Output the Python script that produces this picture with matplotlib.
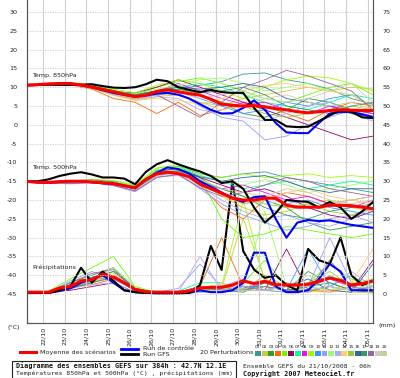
import numpy as np
import matplotlib
matplotlib.use('Agg')
import matplotlib.pyplot as plt
from matplotlib.lines import Line2D
from matplotlib.patches import Rectangle

# ---------------- data ----------------
t12 = np.arange(33) * 0.5      # days since 21/10 06h, 12h steps
t24 = np.arange(17) * 1.0      # daily steps

date_labels = ["22/10", "23/10", "24/10", "25/10", "26/10", "26/10", "27/10", "28/10",
               "29/10", "30/10", "31/10", "01/11", "02/11", "03/11", "04/11", "05/11"]
date_pos = [0.75 + i for i in range(16)]

# Temp 850 hPa (deg C)
t850_mean = [10.6, 10.7, 10.9, 11.0, 11.0, 10.6, 10.0, 9.4, 8.8, 8.1, 7.5, 7.9, 8.9, 9.3, 8.8, 8.3, 7.9,
             6.8, 5.5, 5.2, 5.0, 5.1, 4.8, 4.3, 4.0, 3.5, 3.2, 3.5, 3.8, 4.0, 3.9, 3.8, 3.8]
t850_gfs = [10.5, 10.6, 10.7, 10.6, 10.6, 10.7, 10.8, 10.3, 9.9, 9.8, 10.0, 10.8, 12.0, 11.6, 10.0, 9.3, 8.7,
            9.3, 8.7, 8.5, 8.5, 4.5, 1.3, 1.3, -0.4, -0.6, -0.5, 1.0, 2.5, 3.9, 3.5, 2.0, 1.8]
t850_ctl = [10.5, 10.6, 10.8, 10.9, 10.9, 10.5, 10.0, 9.2, 8.5, 8.0, 7.5, 7.8, 8.3, 8.5, 8.0, 7.0, 5.5,
            4.0, 3.0, 3.1, 4.5, 6.5, 4.0, 0.5, -2.0, -2.2, -2.2, 0.5, 3.0, 3.4, 3.4, 2.8, 2.1]
t850_pert = [
    [10.5, 10.8, 11, 10.2, 8.5, 7.8, 8.5, 9.5, 10.5, 11.5, 13.5, 13.8, 12, 11, 9.5, 7, 5.5],
    [10.5, 11, 10.8, 9.8, 8, 6.5, 7.5, 8, 6, 5, 7, 8, 9, 10, 9, 10, 9.5],
    [10.5, 10.6, 11, 10.5, 9, 8.2, 9, 10.5, 8, 6, 3, 2, 4, 7, 6, 4, 3],
    [10.5, 10.8, 10.6, 9.5, 7, 6, 3, 6, 2.5, 4, 6, 5, 3, 1, 4, 6, 5],
    [10.5, 10.9, 11.2, 10.4, 9.2, 8, 10, 11.5, 12.5, 11, 9, 7, 6, 8, 10, 11, 8],
    [10.5, 10.7, 10.9, 10, 8.8, 8.5, 10, 12, 10, 8, 6, 4, 2, 0, -2, -4, -3],
    [10.5, 10.8, 11, 10.3, 9, 8, 9, 10, 11, 10, 8, 6, 5, 4, 6, 8, 7],
    [10.5, 10.6, 11.1, 10.1, 8.7, 7.5, 9, 11, 9, 7, 5.5, 6, 4, 3, 5, 4, 3],
    [10.5, 10.9, 11, 10.6, 9.5, 8.5, 10.5, 12, 11, 9, 7, 10, 12, 13, 12.5, 11, 9],
    [10.5, 10.7, 10.8, 10, 8.5, 7.2, 8, 9, 7, 5, 3, 4, 6, 5, 7, 8, 5],
    [10.5, 10.8, 10.9, 9.9, 8.3, 7, 8, 8.5, 5, 2, 1, -4, -3, 0, 2, 4, 2],
    [10.5, 10.6, 11.2, 10.5, 9, 8.2, 9.5, 10.5, 12, 12.5, 11, 9, 10, 11, 9, 8, 5],
    [10.5, 10.7, 11, 10, 8, 6.8, 7.5, 7, 4, 3, 2, 1, 3, 5, 6, 3, 1],
    [10.5, 10.9, 10.7, 9.6, 7.8, 6.5, 7, 6.5, 5.5, 7, 9, 10.5, 11, 10, 9, 8, 5],
    [10.5, 10.8, 11, 10.2, 8.6, 7.8, 8.5, 9.5, 8, 6, 5, 3, 2, 3, 4, 5, 4],
    [10.5, 10.7, 10.9, 10.3, 8.8, 7.9, 9, 10, 9.5, 10, 11, 10, 7, 6, 5, 3, 2],
    [10.5, 10.8, 11, 10.4, 9.1, 8, 9, 9.5, 8.5, 9, 10, 8, 5, 4, 3, 5, 6],
    [10.5, 10.6, 10.8, 9.9, 8.2, 7, 8, 5, 2, 6, 10, 12, 14.5, 13, 11, 9, 4],
    [10.5, 10.7, 10.9, 10.1, 8.4, 7.2, 8.3, 8.5, 7, 8, 9, 7, 6, 7, 9, 11, 6],
    [10.5, 10.9, 11, 10, 8, 7, 8, 8, 6, 4, 5, 7, 8, 6, 5, 6, 4],
]

# Temp 500 hPa (deg C)
t500_mean = [-15, -15.3, -15.3, -15.1, -15.0, -15.0, -15.2, -15.4, -15.6, -16.2, -16.7, -14.5, -13.0, -12.6,
             -13.0, -13.8, -15.8, -17.0, -18.2, -19.5, -20.0, -20.0, -19.5, -19.5, -21.4, -21.9, -21.9,
             -21.9, -21.4, -21.4, -21.5, -21.9, -22.3]
t500_gfs = [-15, -15, -14.5, -13.6, -13.0, -12.6, -13.2, -14.0, -14.0, -14.3, -15.8, -12.5, -10.5, -9.4,
            -10.5, -11.5, -12.4, -13.6, -15.5, -15.0, -17.0, -22.0, -26.0, -23.5, -20.0, -20.3, -20.5,
            -22.0, -20.5, -22.0, -25.0, -23.0, -20.5]
t500_ctl = [-15, -15.3, -15.4, -15.2, -15.0, -15.0, -15.3, -15.5, -15.7, -16.2, -16.9, -14.5, -12.8, -11.3,
            -11.8, -13.0, -15.0, -16.5, -18.0, -19.5, -20.5, -19.2, -19.0, -25.0, -30.0, -26.0, -25.3,
            -25.6, -25.4, -26.0, -26.6, -27.0, -27.4]
t500_pert = [
    [-15, -15.3, -15, -14.5, -15, -16.5, -12, -11, -13, -14, -13, -12.5, -14, -15, -16, -17, -18],
    [-15, -15.5, -15.2, -15, -15.5, -17, -13, -12.5, -15, -19, -22, -24, -23, -21, -20, -22, -23],
    [-15, -15.2, -15.4, -14.8, -15.2, -16.8, -12.5, -11.5, -14, -18, -21, -20, -22, -26, -28, -27, -26],
    [-15, -15.4, -15.6, -15.3, -16, -17.5, -13.5, -12, -16, -22, -25, -20, -18, -19, -21, -20, -19],
    [-15, -15.1, -15.3, -14.6, -15, -16.2, -11.5, -11, -14, -25, -30, -29, -27, -28, -29, -30, -29],
    [-15, -15.3, -15.5, -15, -15.6, -17, -13, -12, -14, -16, -18, -17, -19, -22, -24, -25, -23],
    [-15, -15.2, -15.1, -14.7, -15.3, -16.6, -12.2, -11.2, -13.5, -15, -17, -16, -15, -17, -16, -15, -16],
    [-15, -15.4, -15.3, -14.9, -15.2, -16.9, -12.8, -12.5, -15.5, -17, -16, -18, -20, -19, -21, -22, -20],
    [-15, -15.1, -15.2, -14.5, -14.8, -16, -11.5, -10.5, -13, -14, -13, -14, -13.5, -13, -14, -13.5, -14],
    [-15, -15.3, -15.5, -15.1, -15.7, -17.2, -13.4, -12.7, -15, -18, -20, -19, -21, -20, -22, -23, -24],
    [-15, -15.5, -15.7, -15.4, -16.2, -17.8, -14, -13, -17, -21, -24, -26, -28, -27, -25, -24, -26],
    [-15, -15.2, -15.3, -14.8, -15.1, -16.4, -12, -11.3, -12.5, -15, -16, -14.5, -16, -18, -17, -16, -15],
    [-15, -15.4, -15.6, -15.2, -15.9, -17.4, -13.8, -13.5, -16.5, -20, -23, -25, -24, -26, -27, -25, -22],
    [-15, -15.3, -15.4, -15, -15.5, -17, -13, -12.5, -15, -19, -21, -20, -18, -17, -19, -20, -21],
    [-15, -15.2, -15.4, -14.9, -15.4, -16.8, -12.7, -12, -14.5, -17, -19, -21, -22, -21, -23, -24, -22],
    [-15, -15.3, -15.3, -14.7, -15.2, -16.6, -12.3, -11.6, -13.8, -15, -14, -13.5, -15, -17, -18, -17, -17],
    [-15, -15.2, -15.5, -15, -15.6, -17.1, -13.2, -12.3, -15, -17, -19, -22, -24, -25, -23, -22, -21],
    [-15, -15.4, -15.6, -15.3, -16.1, -17.6, -14, -13.2, -16.8, -19, -18, -16, -14, -15, -17, -18, -19],
    [-15, -15.3, -15.4, -15.1, -15.8, -17.3, -13.6, -13, -16, -18, -20, -21, -20, -22, -21, -20, -19],
    [-15, -15.2, -15.3, -14.8, -15.3, -16.7, -12.6, -12, -14.6, -17, -18, -19, -17, -18, -20, -21, -20],
]

# Precipitation (mm), right axis
pr_mean = [0.5, 0.5, 0.5, 1.6, 2.0, 3.5, 3.8, 5.3, 4.5, 3.0, 1.2, 0.6, 0.5, 0.5, 0.5, 0.8, 1.6,
           1.8, 1.8, 2.4, 3.5, 2.8, 3.4, 2.5, 2.4, 2.4, 2.6, 3.4, 4.3, 3.6, 2.4, 2.8, 3.5]
pr_gfs = [0.3, 0.3, 0.3, 1.0, 2.0, 7.0, 3.0, 6.0, 3.5, 1.0, 0.5, 0.3, 0.2, 0.2, 0.2, 0.3, 2.4,
          12.8, 6.4, 30.0, 11.4, 6.5, 4.3, 5.0, 2.4, 1.0, 12.0, 9.0, 8.0, 15.0, 5.0, 2.4, 3.5]
pr_ctl = [0.3, 0.3, 0.3, 0.8, 1.5, 3.0, 4.0, 5.0, 3.0, 1.0, 0.5, 0.3, 0.2, 0.2, 0.2, 0.3, 1.0,
          0.5, 0.5, 1.0, 3.0, 11.0, 11.0, 2.0, 0.5, 0.5, 1.0, 4.0, 8.0, 6.0, 1.0, 1.0, 1.0]
pr_pert = [
    [0.3, 0.5, 2, 3.5, 4, 1, 0.3, 0.3, 1, 2, 1, 3, 1, 0.5, 2, 5, 1],
    [0.2, 0.6, 1.5, 3, 5, 1.5, 0.3, 0.2, 2, 1.5, 20, 4, 2, 1, 1, 0.5, 0.3],
    [0.4, 0.6, 3, 5, 7, 1, 0.2, 0.5, 0.5, 1, 1, 2, 1, 6, 3, 1, 2],
    [0.3, 0.4, 2, 2.5, 4, 1.5, 0.5, 0.4, 2, 15, 2, 1, 3, 1, 0.5, 2, 1],
    [0.2, 0.8, 4, 7, 10, 2, 0.4, 0.3, 0.8, 2, 3, 9, 2, 3, 8, 4, 2],
    [0.3, 0.5, 1, 2, 3, 0.5, 0.2, 0.3, 1.5, 1, 2, 1, 12, 1, 2, 1, 9],
    [0.4, 0.6, 2.5, 4, 5, 1, 0.3, 0.8, 3, 3, 1, 1, 0.5, 1, 5, 2, 1],
    [0.3, 0.5, 1.5, 3.5, 5, 1.5, 0.5, 0.5, 2, 1, 1.5, 3, 1, 2, 4, 2, 0.5],
    [0.2, 0.5, 2, 3, 6, 2, 0.3, 0.3, 1, 2, 25, 3, 1, 2, 1, 3, 4],
    [0.3, 0.7, 2, 4, 4.5, 1, 0.2, 0.2, 0.5, 1, 2, 2, 1, 12, 2, 1, 2],
    [0.4, 0.5, 3.5, 6, 4, 1, 0.4, 1.5, 8, 2, 4, 1, 0.5, 2, 15, 3, 1],
    [0.3, 0.5, 2, 4, 7, 2, 0.5, 0.4, 1, 1, 1.5, 22, 2, 1, 2, 1, 0.5],
    [0.2, 0.4, 1.5, 2.5, 3, 0.5, 0.3, 0.5, 10, 1, 2, 1, 3, 1, 2, 6, 2],
    [0.3, 0.6, 2.5, 3.5, 5.5, 1.5, 0.4, 0.3, 1.2, 3, 1, 2, 1, 0.5, 1, 3, 12],
    [0.4, 0.5, 2, 3, 5, 1, 0.2, 0.4, 0.8, 1.5, 1, 5, 2, 3, 6, 2, 1],
    [0.3, 0.6, 2.5, 4.5, 6, 1.5, 0.3, 0.2, 1.5, 2, 1, 1, 2, 4, 1, 0.5, 8],
    [0.2, 0.5, 1.5, 3, 4.5, 0.8, 0.5, 0.3, 2, 1, 0.5, 3, 1, 2, 3, 1, 0.5],
    [0.3, 0.5, 3, 5.5, 6.5, 1.5, 0.4, 0.5, 2, 1, 1, 2, 1, 1, 9, 2, 1],
    [0.4, 0.7, 2, 3.5, 4.5, 1, 0.3, 0.2, 0.5, 1, 1, 1, 2, 5, 2, 1, 3],
    [0.3, 0.5, 2, 4, 5, 1, 0.4, 0.5, 1.8, 2, 1, 1, 2, 2, 1, 1.5, 2],
]

pert_colors = ["#339999", "#cccc33", "#339933", "#ff6600", "#66ff00", "#990066", "#00ff99",
               "#ff00ff", "#99ff00", "#3399ff", "#9999ff", "#99ff66", "#aaaaff", "#ffcc66",
               "#99cc33", "#336699", "#339966", "#996699", "#cccccc", "#cccc99"]
pert_names = ["%02d" % (i + 1) for i in range(20)]

left_ticks = list(range(-45, 31, 5))
right_ticks = list(range(0, 76, 5))

# ---------------- figure ----------------
W, H = 400, 378
fig = plt.figure(figsize=(W / 100, H / 100), dpi=100)
fig.patch.set_facecolor("white")

def fx(px):
    return px / W

def fy(py):
    return 1 - py / H

ax = fig.add_axes([fx(27), fy(323), fx(373) - fx(27), fy(0) - fy(323)])
ylo, yhi = -52.7, 33.2
ax.set_xlim(0, 16)
ax.set_ylim(ylo, yhi)
ax2 = ax.twinx()
ax2.set_ylim(ylo + 45, yhi + 45)

for a in (ax, ax2):
    for s in ("top",):
        a.spines[s].set_visible(False)
    a.spines["left"].set_color("#555555")
    a.spines["right"].set_color("#555555")
    a.spines["bottom"].set_color("#555555")
    for s in ("left", "right", "bottom"):
        a.spines[s].set_linewidth(0.8)

# grid
for p in date_pos:
    ax.axvline(p, color="#cfcfcf", lw=0.8, zorder=0)
for v in left_ticks:
    ax.axhline(v, color="#c8c8c8", lw=0.6, ls=(0, (1.5, 1.5)), zorder=0)

fs_tick = 4.6
ax.set_yticks(left_ticks)
ax.set_yticklabels([str(v) for v in left_ticks], fontsize=fs_tick, color="#222222")
ax.tick_params(axis="y", length=0, pad=7)
ax2.set_yticks(right_ticks)
ax2.set_yticklabels([str(v) for v in right_ticks], fontsize=fs_tick, color="#222222")
ax2.tick_params(axis="y", length=0, pad=7)
ax.set_xticks(date_pos)
ax.set_xticklabels(date_labels, rotation=90, fontsize=fs_tick, color="#222222")
ax.tick_params(axis="x", length=0, pad=3)

# perturbations
for i in range(20):
    c = pert_colors[i]
    ax.plot(t24, t850_pert[i], color=c, lw=0.6, zorder=2)
    ax.plot(t24, t500_pert[i], color=c, lw=0.6, zorder=2)
    ax2.plot(t24, pr_pert[i], color=c, lw=0.6, zorder=2)

# control, GFS, mean
ax.plot(t12, t850_ctl, color="#0000ff", lw=1.5, zorder=4)
ax.plot(t12, t500_ctl, color="#0000ff", lw=1.5, zorder=4)
ax2.plot(t12, pr_ctl, color="#0000ff", lw=1.5, zorder=4)
ax.plot(t12, t850_gfs, color="#000000", lw=1.5, zorder=5)
ax.plot(t12, t500_gfs, color="#000000", lw=1.5, zorder=5)
ax2.plot(t12, pr_gfs, color="#000000", lw=1.5, zorder=5)
ax.plot(t12, t850_mean, color="#ff0000", lw=2.2, zorder=6)
ax.plot(t12, t500_mean, color="#ff0000", lw=2.2, zorder=6)
ax2.plot(t12, pr_mean, color="#ff0000", lw=2.2, zorder=6)
ax.set_zorder(ax2.get_zorder() + 1)
ax.patch.set_visible(False)

fs_txt = 4.6
ax.text(0.25, 12.5, "Temp. 850hPa", fontsize=fs_txt, color="#222222", va="bottom", ha="left", zorder=7)
ax.text(0.25, -12.0, "Temp. 500hPa", fontsize=fs_txt, color="#222222", va="bottom", ha="left", zorder=7)
ax.text(0.25, -38.5, "Précipitations", fontsize=fs_txt, color="#222222", va="bottom", ha="left", zorder=7)

fig.text(fx(14), fy(327), "(°C)", fontsize=fs_tick, ha="center", va="center", color="#222222")
fig.text(fx(387), fy(326), "(mm)", fontsize=fs_tick, ha="center", va="center", color="#222222")

# legend
fig.add_artist(Line2D([fx(20), fx(36)], [fy(352), fy(352)], color="#ff0000", lw=2.2))
fig.text(fx(40), fy(352), "Moyenne des scénarios", fontsize=fs_txt, va="center", ha="left", color="#222222")
fig.add_artist(Line2D([fx(121), fx(138)], [fy(348.5), fy(348.5)], color="#0000ff", lw=2.0))
fig.add_artist(Line2D([fx(121), fx(138)], [fy(353.5), fy(353.5)], color="#000000", lw=2.0))
fig.text(fx(143), fy(348), "Run de contrôle", fontsize=fs_txt, va="center", ha="left", color="#222222")
fig.text(fx(143), fy(354), "Run GFS", fontsize=fs_txt, va="center", ha="left", color="#222222")
fig.text(fx(200), fy(352.5), "20 Perturbations", fontsize=fs_txt, va="center", ha="left", color="#222222")
sq_w = 6.65
for i in range(20):
    x0 = 255 + i * sq_w
    fig.add_artist(Rectangle((fx(x0), fy(356)), fx(sq_w - 0.8), fy(351) - fy(356),
                             facecolor=pert_colors[i], edgecolor="none"))
    fig.text(fx(x0 + sq_w / 2 - 0.4), fy(346.5), pert_names[i], fontsize=3.2, ha="center",
             va="center", color="#222222")

# info box
fig.add_artist(Rectangle((fx(12), fy(378)), fx(236) - fx(12), fy(361) - fy(378),
                         facecolor="white", edgecolor="#222222", lw=0.8))
fig.text(fx(16), fy(366), "Diagramme des ensembles GEFS sur 384h : 42.7N 12.1E",
         fontsize=4.9, fontweight="bold", family="DejaVu Sans Mono", va="center", ha="left", color="#111111")
fig.text(fx(16), fy(373.5), "Températures 850hPa et 500hPa (°C) , précipitations (mm)",
         fontsize=4.6, family="DejaVu Sans Mono", va="center", ha="left", color="#222222")
fig.text(fx(243), fy(366), "Ensemble GEFS du 21/10/2008 - 06h",
         fontsize=4.6, family="DejaVu Sans Mono", va="center", ha="left", color="#222222")
fig.text(fx(243), fy(374), "Copyright 2007 Meteociel.fr",
         fontsize=4.9, fontweight="bold", family="DejaVu Sans Mono", va="center", ha="left", color="#111111")

fig.savefig("out.png", dpi=100, facecolor="white")
